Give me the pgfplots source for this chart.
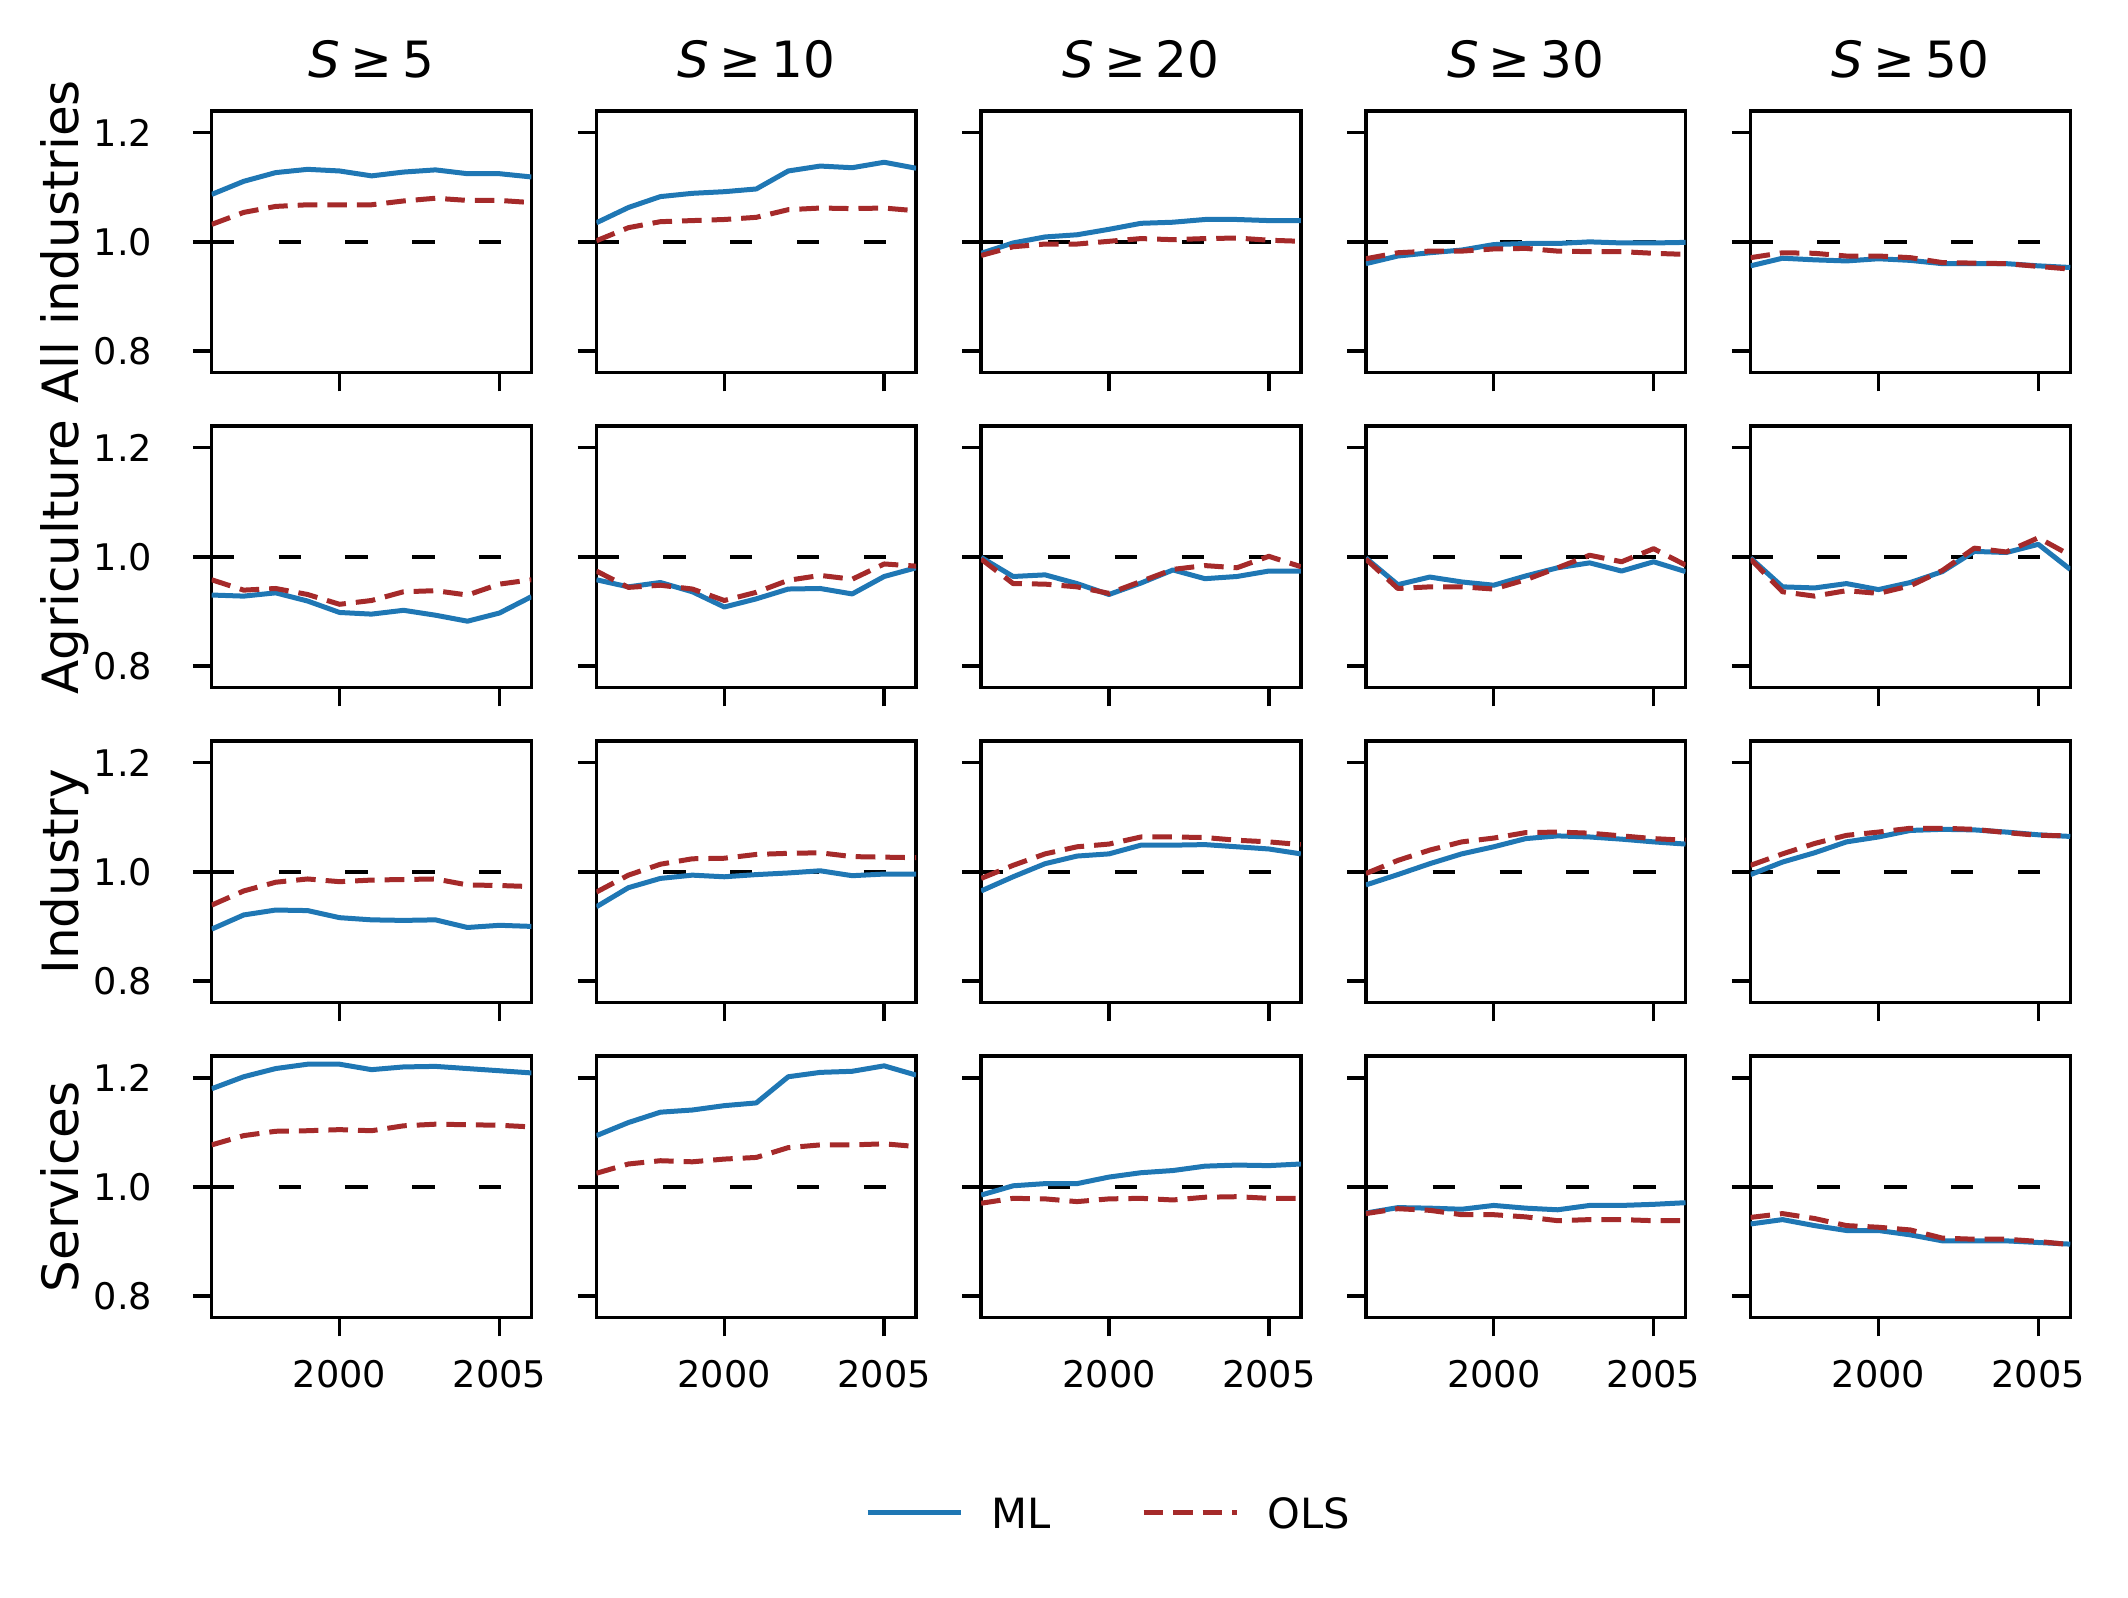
\documentclass[border=0pt]{standalone}
\usepackage{fontspec}
\setmainfont{DejaVu Sans}
\usepackage{pgfplots}
\pgfplotsset{compat=1.18}
\usepackage{pgfplotstable}
\usepgfplotslibrary{groupplots}
\usetikzlibrary{calc}
\definecolor{mlblue}{RGB}{31,119,180}
\definecolor{olsred}{RGB}{165,42,42}

\pgfplotstableread{
year ml5 ols5 ml10 ols10 ml20 ols20 ml30 ols30 ml50 ols50
1996 1.087 1.032 1.035 1.002 0.979 0.975 0.960 0.969 0.956 0.971
1997 1.111 1.054 1.063 1.026 0.998 0.991 0.974 0.980 0.970 0.980
1998 1.127 1.065 1.083 1.037 1.009 0.996 0.980 0.983 0.967 0.979
1999 1.133 1.068 1.089 1.039 1.013 0.996 0.985 0.983 0.965 0.974
2000 1.130 1.068 1.092 1.041 1.023 1.001 0.995 0.987 0.969 0.974
2001 1.121 1.068 1.097 1.045 1.034 1.006 0.997 0.988 0.966 0.971
2002 1.128 1.075 1.130 1.059 1.036 1.004 0.997 0.983 0.960 0.962
2003 1.132 1.080 1.139 1.062 1.041 1.006 1.000 0.982 0.960 0.961
2004 1.125 1.076 1.136 1.061 1.041 1.007 0.998 0.982 0.960 0.960
2005 1.125 1.076 1.146 1.062 1.039 1.003 0.998 0.979 0.956 0.955
2006 1.119 1.072 1.135 1.057 1.039 1.001 0.999 0.977 0.953 0.950
}\allind

\pgfplotstableread{
year ml5 ols5 ml10 ols10 ml20 ols20 ml30 ols30 ml50 ols50
1996 0.930 0.958 0.958 0.974 0.999 0.996 0.998 0.996 0.998 0.996
1997 0.928 0.939 0.945 0.944 0.964 0.951 0.949 0.942 0.945 0.936
1998 0.934 0.942 0.953 0.948 0.967 0.950 0.963 0.945 0.943 0.928
1999 0.919 0.931 0.936 0.941 0.951 0.945 0.954 0.945 0.951 0.938
2000 0.898 0.913 0.908 0.920 0.931 0.933 0.948 0.941 0.940 0.933
2001 0.895 0.920 0.923 0.935 0.952 0.955 0.965 0.958 0.953 0.947
2002 0.902 0.936 0.941 0.957 0.976 0.977 0.980 0.980 0.973 0.975
2003 0.893 0.938 0.942 0.966 0.960 0.984 0.989 1.003 1.010 1.016
2004 0.882 0.930 0.932 0.959 0.964 0.980 0.974 0.991 1.008 1.009
2005 0.897 0.950 0.964 0.987 0.974 1.001 0.991 1.015 1.023 1.035
2006 0.927 0.958 0.980 0.983 0.974 0.982 0.973 0.985 0.977 1.003
}\agri

\pgfplotstableread{
year ml5 ols5 ml10 ols10 ml20 ols20 ml30 ols30 ml50 ols50
1996 0.895 0.939 0.936 0.963 0.965 0.988 0.976 0.997 0.995 1.012
1997 0.921 0.965 0.971 0.994 0.991 1.012 0.995 1.021 1.018 1.033
1998 0.930 0.981 0.988 1.014 1.015 1.033 1.015 1.040 1.035 1.052
1999 0.929 0.987 0.994 1.024 1.029 1.046 1.033 1.055 1.055 1.067
2000 0.916 0.982 0.991 1.025 1.033 1.051 1.046 1.062 1.064 1.073
2001 0.912 0.985 0.995 1.032 1.049 1.064 1.061 1.072 1.076 1.080
2002 0.911 0.986 0.998 1.034 1.049 1.064 1.066 1.073 1.078 1.080
2003 0.912 0.987 1.002 1.035 1.050 1.063 1.064 1.071 1.077 1.078
2004 0.898 0.976 0.993 1.028 1.046 1.058 1.060 1.066 1.073 1.072
2005 0.902 0.975 0.996 1.027 1.042 1.055 1.055 1.061 1.068 1.067
2006 0.900 0.973 0.996 1.026 1.033 1.050 1.051 1.058 1.065 1.066
}\indus

\pgfplotstableread{
year ml5 ols5 ml10 ols10 ml20 ols20 ml30 ols30 ml50 ols50
1996 1.180 1.077 1.094 1.025 0.985 0.970 0.952 0.951 0.932 0.944
1997 1.202 1.094 1.118 1.042 1.002 0.979 0.962 0.960 0.940 0.951
1998 1.217 1.102 1.137 1.048 1.006 0.978 0.961 0.957 0.929 0.942
1999 1.225 1.103 1.141 1.046 1.006 0.973 0.959 0.949 0.920 0.929
2000 1.225 1.105 1.149 1.051 1.018 0.978 0.966 0.949 0.920 0.926
2001 1.215 1.103 1.154 1.054 1.026 0.979 0.961 0.945 0.912 0.921
2002 1.220 1.112 1.202 1.072 1.030 0.976 0.958 0.938 0.901 0.906
2003 1.221 1.115 1.210 1.077 1.038 0.981 0.966 0.940 0.901 0.904
2004 1.217 1.114 1.212 1.077 1.040 0.982 0.966 0.940 0.901 0.904
2005 1.213 1.113 1.222 1.079 1.039 0.979 0.968 0.938 0.898 0.900
2006 1.209 1.110 1.205 1.074 1.042 0.979 0.971 0.938 0.895 0.894
}\serv

\pgfplotsset{
  panel/.style={
    scale only axis, width=76.73bp, height=62.81bp,
    xmin=1996, xmax=2006, ymin=0.76, ymax=1.24,
    xtick={2000,2005}, ytick={0.8,1.0,1.2},
    xticklabels={}, yticklabels={},
    tick align=outside, xtick pos=left, ytick pos=left,
    major tick length=4.5bp,
    tick style={black, line width=0.8bp},
    axis line style={black, line width=0.8bp},
    xticklabel style={font=\fontsize{8.8bp}{10bp}\selectfont, anchor=base, inner sep=0pt, yshift=-12.3bp},
    yticklabel style={font=\fontsize{8.8bp}{10bp}\selectfont, anchor=east, inner sep=0pt, xshift=-9.6bp},
    title style={at={(0.5,1)}, anchor=base, yshift=2.0bp, inner sep=0pt, font=\fontsize{12bp}{14bp}\selectfont},
  },
  bot/.style={xticklabels={2000,2005}},
  lft/.style={yticklabels={0.8,1.0,1.2}},
}

\newcommand{\panel}[2]{%
  \addplot[black, line width=1bp, dash pattern=on 5.35bp off 10.7bp, forget plot] coordinates {(1996,1) (2006,1)};
  \addplot[mlblue, line width=1.2bp, line join=round] table[x=year, y=ml#2] {#1};
  \addplot[olsred, line width=1.2bp, line join=round, dash pattern=on 4.7bp off 2.4bp] table[x=year, y=ols#2] {#1};
}
\newcommand{\ttl}[1]{\textit{S}\hspace{0.2em}≥\hspace{0.2em}#1}

\begin{document}
\begin{tikzpicture}
\begin{groupplot}[group style={group size=5 by 4, horizontal sep=15.6bp, vertical sep=12.79bp}, panel]
\nextgroupplot[lft, title={\ttl{5}}]  \panel{\allind}{5}
\nextgroupplot[title={\ttl{10}}] \panel{\allind}{10}
\nextgroupplot[title={\ttl{20}}] \panel{\allind}{20}
\nextgroupplot[title={\ttl{30}}] \panel{\allind}{30}
\nextgroupplot[title={\ttl{50}}] \panel{\allind}{50}
\nextgroupplot[lft] \panel{\agri}{5}
\nextgroupplot \panel{\agri}{10}
\nextgroupplot \panel{\agri}{20}
\nextgroupplot \panel{\agri}{30}
\nextgroupplot \panel{\agri}{50}
\nextgroupplot[lft] \panel{\indus}{5}
\nextgroupplot \panel{\indus}{10}
\nextgroupplot \panel{\indus}{20}
\nextgroupplot \panel{\indus}{30}
\nextgroupplot \panel{\indus}{50}
\nextgroupplot[lft, bot] \panel{\serv}{5}
\nextgroupplot[bot] \panel{\serv}{10}
\nextgroupplot[bot,
  legend columns=2,
  legend style={at={(-0.3653,-0.7528)}, anchor=west, draw=none, fill=none, inner sep=0pt,
    nodes={inner sep=0pt, text depth=0pt, font=\fontsize{10bp}{12bp}\selectfont, anchor=base west},
    /tikz/column sep=0pt, /tikz/every even column/.append style={column sep=21.6bp}},
  legend image code/.code={\draw[#1] (0bp,3.9bp) -- (22.5bp,3.9bp); \path (29.2bp,0bp);},
  ] \panel{\serv}{20}
  \legend{ML,OLS}
\nextgroupplot[bot] \panel{\serv}{30}
\nextgroupplot[bot] \panel{\serv}{50}
\end{groupplot}
\begin{scope}[every node/.style={rotate=90, anchor=base, inner sep=0pt, font=\fontsize{12bp}{14bp}\selectfont}]
\node at ($(group c1r1.west)+(-31.85bp,0)$) {All industries};
\node at ($(group c1r2.west)+(-31.85bp,0)$) {Agriculture};
\node at ($(group c1r3.west)+(-31.85bp,0)$) {Industry};
\node at ($(group c1r4.west)+(-31.85bp,0)$) {Services};
\end{scope}
\pgfresetboundingbox
\path[use as bounding box] ($(group c1r1.north west)+(-50.81bp,26.64bp)$) rectangle ++(510.72bp,-383.52bp);
\end{tikzpicture}
\end{document}
